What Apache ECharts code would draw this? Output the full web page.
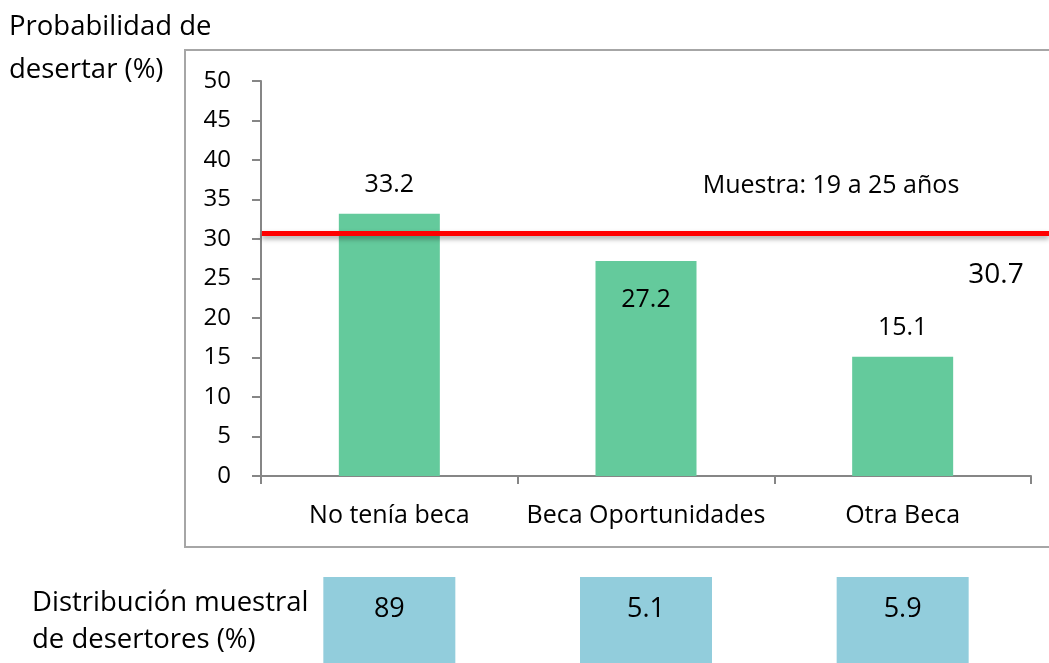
<!DOCTYPE html>
<html>
<head>
<meta charset="utf-8">
<script src="https://cdn.jsdelivr.net/npm/echarts@6/dist/echarts.min.js"></script>
<style>
  html, body { margin: 0; padding: 0; background: #ffffff; }
  #chart { width: 1049px; height: 663px; }
</style>
</head>
<body>
<div id="chart"></div>
<script>
// Dropout probability by scholarship type
const categories = ['No tenía beca', 'Beca Oportunidades', 'Otra Beca'];
const probability = [33.2, 27.2, 15.1];
const sampleShare = [89, 5.1, 5.9];
const overallAverage = 30.7;
const yTicks = { min: 0, max: 50, interval: 5 };

const FONT = '"Open Sans", "Noto Sans", sans-serif';

const chart = echarts.init(document.getElementById('chart'), null, { renderer: 'canvas' });

const barData = probability.map((v, i) => {
  const item = { value: v };
  // the middle label sits inside the bar, below the average line
  if (i === 1) {
    item.label = { position: 'insideTop', distance: 26 };
  }
  return item;
});

chart.setOption({
  animation: false,
  backgroundColor: '#ffffff',
  grid: { left: 261, right: 18, top: 81, bottom: 187, containLabel: false },
  xAxis: {
    type: 'category',
    data: categories,
    axisLine: { lineStyle: { color: '#868686', width: 2 } },
    axisTick: { show: true, length: 8, lineStyle: { color: '#868686', width: 2 } },
    axisLabel: { color: '#000000', fontSize: 25, fontFamily: FONT, margin: 27, interval: 0 }
  },
  yAxis: {
    type: 'value',
    min: yTicks.min, max: yTicks.max, interval: yTicks.interval,
    axisLine: { show: true, lineStyle: { color: '#868686', width: 2 } },
    axisTick: { show: true, length: 9, lineStyle: { color: '#868686', width: 2 } },
    splitLine: { show: false },
    axisLabel: { color: '#000000', fontSize: 24, fontFamily: FONT, margin: 30 }
  },
  series: [{
    type: 'bar',
    data: barData,
    barWidth: 101,
    itemStyle: { color: '#64CA9C' },
    label: {
      show: true, position: 'top', distance: 16,
      color: '#000000', fontSize: 25, fontFamily: FONT,
      formatter: p => p.value.toFixed(1)
    },
    z: 2
  }]
});

function drawOverlay() {
  const yAvg = chart.convertToPixel({ yAxisIndex: 0 }, overallAverage);
  const xLeft = chart.convertToPixel({ xAxisIndex: 0 }, categories[0]) - 128.5;
  const width = chart.getWidth();

  const cells = [];
  categories.forEach((c, i) => {
    const cx = chart.convertToPixel({ xAxisIndex: 0 }, c);
    cells.push({
      type: 'rect',
      shape: { x: cx - 66, y: 577, width: 132, height: 90 },
      style: { fill: '#92CDDC' },
      z: 5
    });
    cells.push({
      type: 'text',
      x: cx, y: 609,
      style: {
        text: String(sampleShare[i]), fill: '#000000',
        font: '27px ' + FONT, align: 'center', verticalAlign: 'middle'
      },
      z: 6
    });
  });

  chart.setOption({
    graphic: [
      // outer frame of the plot area
      {
        type: 'rect',
        shape: { x: 185, y: 50, width: width, height: 497 },
        style: { fill: 'none', stroke: '#A6A6A6', lineWidth: 2 },
        z: 0, silent: true
      },
      // overall average line
      {
        type: 'line',
        shape: { x1: xLeft + 1, y1: yAvg, x2: width, y2: yAvg },
        style: {
          stroke: '#FF0000', lineWidth: 5,
          shadowBlur: 5, shadowColor: 'rgba(0,0,0,0.35)', shadowOffsetY: 3
        },
        z: 10
      },
      {
        type: 'text', x: 996, y: yAvg + 42,
        style: { text: String(overallAverage), fill: '#000000', font: '28px ' + FONT, align: 'center', verticalAlign: 'middle' },
        z: 10
      },
      {
        type: 'text', x: 831, y: 186,
        style: { text: 'Muestra: 19 a 25 años', fill: '#000000', font: '25px ' + FONT, align: 'center', verticalAlign: 'middle' },
        z: 10
      },
      // y-axis title
      {
        type: 'text', x: 9, y: 27,
        style: { text: 'Probabilidad de', fill: '#000000', font: '27.5px ' + FONT, align: 'left', verticalAlign: 'middle' },
        z: 10
      },
      {
        type: 'text', x: 9, y: 70,
        style: { text: 'desertar (%)', fill: '#000000', font: '27.5px ' + FONT, align: 'left', verticalAlign: 'middle' },
        z: 10
      },
      // row label for the sample distribution
      {
        type: 'text', x: 32, y: 603,
        style: { text: 'Distribución muestral', fill: '#000000', font: '27.5px ' + FONT, align: 'left', verticalAlign: 'middle' },
        z: 10
      },
      {
        type: 'text', x: 32, y: 640,
        style: { text: 'de desertores (%)', fill: '#000000', font: '27.5px ' + FONT, align: 'left', verticalAlign: 'middle' },
        z: 10
      }
    ].concat(cells)
  });
}

drawOverlay();
</script>
</body>
</html>
